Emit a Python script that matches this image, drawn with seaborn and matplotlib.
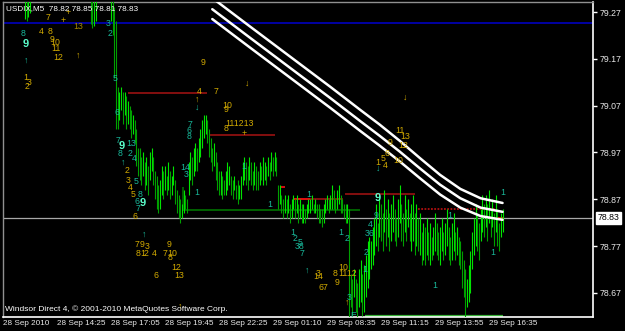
import numpy as np
import pandas as pd
import matplotlib
matplotlib.use("Agg")
import matplotlib.pyplot as plt
import seaborn as sns

# ---------------- data ----------------
time_labels = ["28 Sep 2010", "28 Sep 14:25", "28 Sep 17:05", "28 Sep 19:45", "28 Sep 22:25",
               "29 Sep 01:10", "29 Sep 08:35", "29 Sep 11:15", "29 Sep 13:55", "29 Sep 16:35"]
label_bars = [0, 32, 64, 96, 128, 160, 192, 224, 256, 288]
price_ticks = [78.67, 78.77, 78.87, 78.97, 79.07, 79.17, 79.27]
last_price = 78.83
header = "USDIX,M5  78.82 78.85 78.81 78.83"
footer = "Windsor Direct 4, \u00a9 2001-2010 MetaQuotes Software Corp."

# OHLC bar ranges (high / low), by segment start bar
segA_start = 13
segA_hi = [79.32, 79.32, 79.32, 79.32]
segA_lo = [79.255, 79.25, 79.26, 79.268]
segB_start = 52
segB_hi = [79.32, 79.32, 79.32, 79.32]
segB_lo = [79.245, 79.235, 79.24, 79.25]
segC_start = 64
segC_hi = [
    79.32, 79.30, 79.28, 79.25, 79.11, 79.10,
    79.11, 79.10, 79.10, 79.09, 79.08, 79.07, 79.06, 79.05, 79.04, 79.02,
    78.98, 78.98, 78.96, 78.97, 78.95, 78.96, 78.94, 78.97, 78.98, 78.96,
    78.93, 78.92, 78.90, 78.91, 78.94, 78.93, 78.94, 78.92, 78.95, 78.93,
    78.92, 78.94, 78.91, 78.89, 78.88, 78.87, 78.86, 78.89, 78.88, 78.87,
    78.95, 78.97, 78.96, 78.98, 78.99, 78.98, 79.00, 79.02, 79.04, 79.05,
    79.05, 79.04, 79.02, 79.00, 78.98, 78.99, 78.97, 78.95, 78.93, 78.93,
    78.92, 78.91, 78.93, 78.95, 78.94, 78.92, 78.91, 78.92, 78.90, 78.91,
    78.90, 78.92, 78.95, 78.96, 78.95, 78.94, 78.96, 78.95, 78.93, 78.95,
    78.94, 78.93, 78.95, 78.94, 78.96, 78.95, 78.94, 78.96, 78.95, 78.97,
    78.96, 78.97, 78.96, 78.90, 78.90, 78.88, 78.87, 78.88, 78.87, 78.88,
    78.86, 78.87, 78.88, 78.87, 78.88, 78.86, 78.87, 78.86, 78.86, 78.85,
    78.86, 78.87, 78.87, 78.88, 78.86, 78.87, 78.86, 78.86, 78.85, 78.85,
    78.86, 78.87, 78.88, 78.87, 78.88, 78.90, 78.89, 78.87, 78.89, 78.90,
    78.88, 78.87, 78.86, 78.86, 78.86, 78.85, 78.71, 78.70, 78.72, 78.70,
    78.69, 78.72, 78.74, 78.71, 78.73, 78.75, 78.78, 78.79, 78.78, 78.81,
    78.83, 78.86, 78.82, 78.88, 78.86, 78.84, 78.89, 78.85, 78.87, 78.84,
    78.86, 78.88, 78.85, 78.83, 78.87, 78.90, 78.86, 78.84, 78.88, 78.85,
    78.87, 78.84, 78.86, 78.88, 78.84, 78.86, 78.83, 78.84, 78.80, 78.82,
    78.81, 78.83, 78.80, 78.82, 78.79, 78.81, 78.84, 78.82, 78.80, 78.81,
    78.83, 78.80, 78.82, 78.85, 78.81, 78.79, 78.82, 78.84, 78.80, 78.81,
    78.79, 78.78, 78.76, 78.74, 78.72, 78.70, 78.73, 78.76, 78.80, 78.83,
    78.86, 78.84, 78.82, 78.85, 78.88, 78.86, 78.88, 78.86, 78.89, 78.85,
    78.87, 78.84, 78.88, 78.85, 78.82, 78.84, 78.85]
segC_lo = [
    79.25, 79.22, 79.13, 79.02, 79.02, 79.04,
    79.06, 79.03, 79.05, 79.02, 79.03, 79.02, 79.00, 79.01, 78.99, 78.94,
    78.92, 78.91, 78.90, 78.92, 78.89, 78.90, 78.88, 78.91, 78.93, 78.90,
    78.87, 78.85, 78.84, 78.85, 78.88, 78.87, 78.89, 78.88, 78.89, 78.87,
    78.88, 78.90, 78.86, 78.84, 78.83, 78.82, 78.83, 78.84, 78.85, 78.84,
    78.88, 78.91, 78.90, 78.92, 78.93, 78.93, 78.95, 78.96, 78.98, 79.00,
    79.01, 78.99, 78.96, 78.95, 78.93, 78.94, 78.91, 78.89, 78.88, 78.88,
    78.87, 78.88, 78.88, 78.89, 78.90, 78.88, 78.87, 78.89, 78.87, 78.86,
    78.87, 78.87, 78.90, 78.91, 78.90, 78.89, 78.91, 78.90, 78.89, 78.90,
    78.89, 78.89, 78.90, 78.91, 78.90, 78.91, 78.90, 78.92, 78.91, 78.93,
    78.92, 78.93, 78.92, 78.85, 78.86, 78.84, 78.83, 78.84, 78.83, 78.84,
    78.82, 78.83, 78.85, 78.83, 78.84, 78.82, 78.83, 78.82, 78.82, 78.82,
    78.83, 78.84, 78.84, 78.85, 78.84, 78.84, 78.83, 78.82, 78.82, 78.81,
    78.82, 78.84, 78.85, 78.84, 78.85, 78.85, 78.85, 78.84, 78.85, 78.86,
    78.84, 78.84, 78.83, 78.82, 78.82, 78.60, 78.64, 78.62, 78.66, 78.63,
    78.60, 78.64, 78.65, 78.62, 78.63, 78.66, 78.68, 78.70, 78.72, 78.73,
    78.75, 78.77, 78.76, 78.79, 78.78, 78.76, 78.80, 78.77, 78.79, 78.76,
    78.78, 78.80, 78.78, 78.77, 78.79, 78.82, 78.78, 78.77, 78.80, 78.78,
    78.81, 78.78, 78.76, 78.78, 78.75, 78.77, 78.76, 78.75, 78.73, 78.74,
    78.73, 78.75, 78.74, 78.73, 78.74, 78.75, 78.76, 78.75, 78.74, 78.73,
    78.76, 78.74, 78.75, 78.77, 78.74, 78.73, 78.74, 78.76, 78.74, 78.75,
    78.73, 78.72, 78.68, 78.66, 78.60, 78.64, 78.65, 78.67, 78.72, 78.75,
    78.77, 78.76, 78.74, 78.78, 78.80, 78.79, 78.81, 78.78, 78.82, 78.79,
    78.81, 78.77, 78.80, 78.77, 78.76, 78.79, 78.80]

# white envelope lines
band_bars = [124, 146, 170, 194, 212, 223, 235, 247, 259, 271, 283, 296]
band_upper = [79.30, 79.24, 79.175, 79.11, 79.06, 79.03, 78.995, 78.958, 78.922, 78.892, 78.872, 78.862]
band_middle = [79.276, 79.216, 79.151, 79.086, 79.036, 79.006, 78.972, 78.936, 78.901, 78.872, 78.852, 78.843]
band_lower = [79.255, 79.195, 79.13, 79.065, 79.015, 78.985, 78.951, 78.915, 78.88, 78.852, 78.834, 78.826]

# horizontal level lines
hl_level = [79.2465, 79.097, 79.007, 78.896, 78.870, 78.870, 78.881, 78.849, 78.830, 78.847, 78.620]
hl_start = [0, 74, 122.7, 164, 171.9, 172, 202.7, 246, 292.7, 106.7, 214.5]
hl_end = [349.6, 120.9, 161.2, 167, 201.5, 182, 244, 292.7, 296.5, 211.6, 296.3]
hl_kind = ["blue", "dred", "dred", "bred", "dred", "bred", "dred", "dot", "bred", "dgreen", "green"]

# indicator count labels (bar, price, text, kind)
ann_bar = [26.7, 38.5, 35.6, 44.4, 11.9, 22.5, 27.9, 13.6, 29, 30.8, 31.4, 32.6, 13.6, 44.4,
           13.6, 15.4, 14.2, 63.4, 62.2, 66.4, 67.6, 118.5, 116.1, 126.2, 115, 115,
           132.7, 132.1, 132.1, 140.4, 142.8, 144.6, 110.8, 110.2, 110.2,
           68.1, 70.5, 75.9, 69.3, 75.3, 77.6, 71.1,
           73.5, 74.1, 78.8, 75.3, 77, 81.2, 79.4, 83, 80, 78.2,
           107.9, 108.4, 115, 142.8, 158.2, 83.6,
           79.4, 82.4, 85.3, 80, 83, 84.7, 89.5,
           98.4, 96, 100.1, 99, 102.5, 104.3, 90.7, 104.9,
           181.3, 222.2, 264.9, 296.3, 221, 217.5, 217.5,
           171.9, 173, 176, 175.5, 177.2, 200.3, 203.9, 215.1, 180.1,
           186.7, 186.7, 201.5, 196.7, 204.0, 197.9, 189.6, 214.5, 256, 205, 204, 207.4,
           238.2, 235.3, 238.2, 237, 229.3, 234.1, 222.2, 225, 226.4, 227.6, 222.2, 290.4]
ann_price = [79.259, 79.27, 79.251, 79.24, 79.225, 79.229, 79.229, 79.202, 79.212, 79.204, 79.193, 79.172, 79.167, 79.178,
             79.131, 79.12, 79.11, 79.225, 79.246, 79.127, 79.056, 79.163, 79.101, 79.101, 79.084, 79.067,
             79.071, 79.061, 79.022, 79.031, 79.01, 79.118, 79.029, 79.016, 79.005,
             78.996, 78.984, 78.988, 78.967, 78.967, 78.958, 78.949,
             78.932, 78.911, 78.907, 78.894, 78.881, 78.879, 78.866, 78.862, 78.851, 78.832,
             78.937, 78.922, 78.885, 78.939, 78.858, 78.796,
             78.774, 78.774, 78.768, 78.755, 78.755, 78.755, 78.755,
             78.774, 78.755, 78.755, 78.746, 78.725, 78.706, 78.706, 78.642,
             78.879, 78.873, 78.836, 78.885, 78.836, 78.815, 78.796,
             78.798, 78.787, 78.778, 78.768, 78.755, 78.798, 78.787, 78.757, 78.719,
             78.712, 78.704, 78.725, 78.712, 78.712, 78.691, 78.682, 78.719, 78.686, 78.661, 78.65, 78.621,
             79.088, 79.016, 79.005, 78.984, 78.992, 78.952, 78.949, 78.958, 78.943, 78.967, 78.937, 78.757]
ann_text = ["7", "+", "+", "13", "8", "4", "8", "9", "9", "10", "11", "12", "\u2191", "\u2191",
            "1", "3", "2", "2", "3", "5", "6", "9", "4", "7", "\u2191", "\u2193",
            "10", "9", "8", "111213", "+", "\u2193", "7", "6", "8",
            "7", "9", "13", "8", "2", "4", "\u2191",
            "2", "3", "5", "4", "5", "8", "6", "9", "7", "6",
            "14", "3", "1", "1", "1", "\u2191",
            "7", "9", "3", "8", "1", "2", "4",
            "9", "7", "10", "8", "12", "13", "6", "\u2191",
            "1", "9", "1", "1", "9", "4", "36",
            "1", "2", "5", "38", "7", "1", "2", "2", "\u2191",
            "3", "14", "10", "8", "1112", "9", "67", "1", "1", "3", "\u2191", "E",
            "\u2193", "11", "13", "12", "9", "10", "1", "5", "4", "6", "\u2193", "1"]
ann_kind = ["y", "y", "y", "o", "t", "y", "y", "c", "y", "y", "y", "y", "t", "y",
            "y", "y", "y", "t", "t", "t", "t", "y", "y", "y", "y", "t",
            "y", "y", "y", "y", "y", "y", "t", "t", "t",
            "t", "c", "t", "t", "t", "t", "t",
            "y", "y", "t", "y", "y", "t", "t", "c", "t", "y",
            "t", "t", "t", "t", "t", "t",
            "y", "y", "y", "y", "y", "y", "y",
            "y", "y", "y", "y", "y", "y", "y", "y",
            "t", "c", "t", "t", "t", "t", "t",
            "t", "t", "t", "t", "t", "t", "t", "t", "t",
            "y", "y", "y", "y", "y", "y", "y", "t", "t", "t", "y", "t",
            "y", "y", "y", "y", "y", "y", "y", "y", "y", "y", "t", "t"]

# ---------------- build table ----------------
rows = []
for start, hi, lo in [(segA_start, segA_hi, segA_lo), (segB_start, segB_hi, segB_lo),
                      (segC_start, segC_hi, segC_lo)]:
    for i, (h, l) in enumerate(zip(hi, lo)):
        rows.append((start + i, h, l))
bars = pd.DataFrame(rows, columns=["bar", "high", "low"])
mid = (bars["high"] + bars["low"]) / 2
up = mid.diff().fillna(0) >= 0
bar_colors = np.where(up, "#00e400", "#00a000")

bands = pd.DataFrame({"bar": band_bars * 3,
                      "price": band_upper + band_middle + band_lower,
                      "band": ["u"] * len(band_bars) + ["m"] * len(band_bars) + ["l"] * len(band_bars)})

# ---------------- style ----------------
sns.set_style("dark", {"axes.facecolor": "black", "figure.facecolor": "black"})
plt.rcParams["font.family"] = ["Liberation Sans", "DejaVu Sans"]

W, H = 625, 331
fig = plt.figure(figsize=(W / 100, H / 100), dpi=100)
fig.patch.set_facecolor("black")
ax = fig.add_axes([3 / W, (H - 317) / H, 590 / W, 315 / H])
ax.set_facecolor("black")
ax.set_xlim(0, 349.6)
ax.set_ylim(78.6183, 79.2914)

# level lines
style_map = {
    "blue": dict(color="#0000b0", lw=1.3, ls="-"),
    "dred": dict(color="#8e1010", lw=1.3, ls="-"),
    "bred": dict(color="#e81010", lw=1.3, ls="-"),
    "dot": dict(color="#b01010", lw=1.3, ls=(0, (1, 0.8))),
    "dgreen": dict(color="#006a00", lw=1.3, ls="-"),
    "green": dict(color="#34b034", lw=1.6, ls="-"),
}
ax.axhline(last_price, color="#a8a8a8", lw=0.9, zorder=1)
for lev, s, e, k in zip(hl_level, hl_start, hl_end, hl_kind):
    st = style_map[k]
    ax.hlines(lev, s, e, colors=st["color"], linewidth=st["lw"], linestyles=[st["ls"]], zorder=2)
ax.vlines(106.7, 78.847, 78.896, colors="#006a00", linewidth=1.2, zorder=2)

# price bars
ax.vlines(bars["bar"], bars["low"], bars["high"], colors=bar_colors, linewidth=0.8, zorder=3)

# envelope lines
sns.lineplot(data=bands, x="bar", y="price", units="band", estimator=None,
             color="white", lw=1.8, ax=ax, zorder=4, legend=False)

# count labels
kind_style = {
    "y": dict(color="#d2aa00", fontsize=6.3, fontweight="normal"),
    "o": dict(color="#a88a00", fontsize=6.3, fontweight="normal"),
    "t": dict(color="#18b89a", fontsize=6.3, fontweight="normal"),
    "c": dict(color="#5cffcc", fontsize=8, fontweight="bold"),
}
for b, p, t, k in zip(ann_bar, ann_price, ann_text, ann_kind):
    st = kind_style[k]
    ax.text(b, p, t, ha="center", va="center", zorder=5, clip_on=True, **st)

# axes decorations
ax.grid(False)
for side in ["left", "top"]:
    ax.spines[side].set_color("#909090")
    ax.spines[side].set_linewidth(1.0)
for side in ["right", "bottom"]:
    ax.spines[side].set_color("white")
    ax.spines[side].set_linewidth(1.2)

ax.yaxis.tick_right()
ax.set_yticks(price_ticks)
ax.set_yticklabels([f"{v:.2f}" for v in price_ticks])
ax.tick_params(axis="y", colors="white", labelcolor="#e8e8e8", length=3, width=1,
               direction="out", pad=2, labelsize=6.3, left=False, right=True)
ax.set_xticks(label_bars)
ax.set_xticklabels(time_labels, ha="left")
ax.tick_params(axis="x", colors="white", labelcolor="#e8e8e8", length=3, width=1,
               direction="out", pad=-0.5, labelsize=5.9)
ax.set_xlabel("")
ax.set_ylabel("")

# current price box
ax.text(1.008, last_price, f"{last_price:.2f}", transform=ax.get_yaxis_transform(),
        ha="left", va="center", fontsize=6.3, color="black", zorder=6, clip_on=False,
        bbox=dict(boxstyle="square,pad=0.18", facecolor="white", edgecolor="white"))

# header and footer text
fig.text(6 / W, 1 - 9 / H, header, color="white", fontsize=5.9, ha="left", va="center")
fig.text(5 / W, 1 - 309 / H, footer, color="white", fontsize=6.0, ha="left", va="center")

fig.savefig("out.png", dpi=100, facecolor="black")
